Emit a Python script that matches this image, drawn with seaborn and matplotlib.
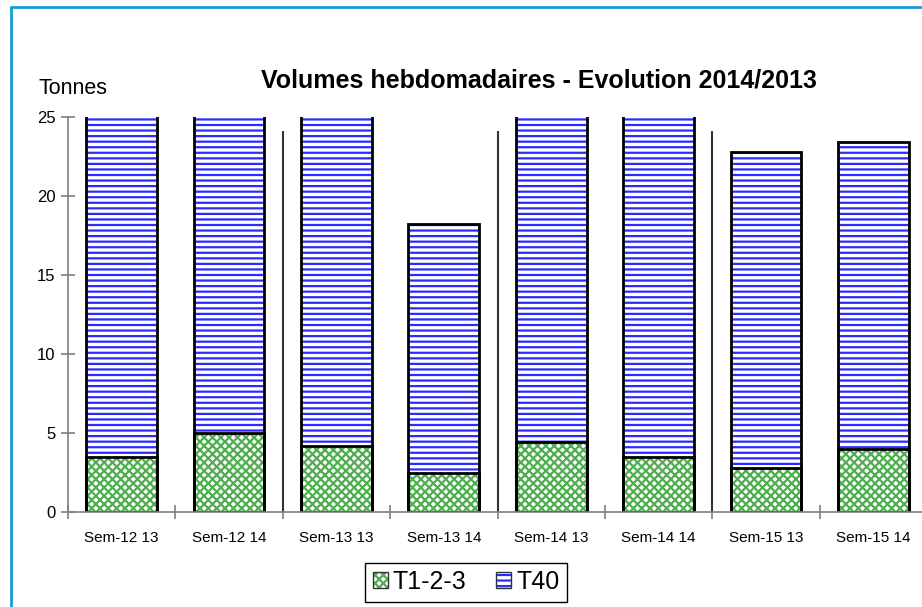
import numpy as np
import pandas as pd
import seaborn as sns
import matplotlib.pyplot as plt
from matplotlib.patches import Patch, Rectangle
from matplotlib.lines import Line2D
from matplotlib.legend_handler import HandlerTuple

labels = ['Sem-12 13', 'Sem-12 14', 'Sem-13 13', 'Sem-13 14',
          'Sem-14 13', 'Sem-14 14', 'Sem-15 13', 'Sem-15 14']
t123 = [3.5, 5.0, 4.2, 2.5, 4.4, 3.5, 2.8, 4.0]
t40 = [24.0, 25.0, 23.5, 15.7, 24.5, 25.5, 20.0, 19.4]
yticks = [0, 5, 10, 15, 20, 25]

df = pd.DataFrame({'sem': labels, 't123': t123, 't40': t40})
df['total'] = df['t123'] + df['t40']

sns.set_style('white')
plt.rcParams['font.family'] = ['Liberation Sans', 'DejaVu Sans']
plt.rcParams['hatch.linewidth'] = 1.6
plt.rcParams['text.color'] = 'black'
plt.rcParams['xtick.color'] = 'black'
plt.rcParams['ytick.color'] = 'black'

blue = '#2b2bff'
green = '#4fae4f'
grey = '#7f7f7f'

fig = plt.figure(figsize=(9.22, 6.07), dpi=100)
ax = fig.add_axes([68/922, 95/607, 859/922, 395/607])

# T40 drawn as the full stack, T1-2-3 overlaid at the bottom
sns.barplot(data=df, x='sem', y='total', color='white', edgecolor=blue,
            linewidth=0, hatch='---', width=0.66, saturation=1, ax=ax)
sns.barplot(data=df, x='sem', y='t123', color='white', edgecolor=green,
            linewidth=0, hatch='xxxx', width=0.66, saturation=1, ax=ax)

for p in list(ax.patches):
    ax.add_patch(Rectangle(p.get_xy(), p.get_width(), p.get_height(),
                           fill=False, edgecolor='black', linewidth=2))

# separators between weeks
ax.vlines([1.5, 3.5, 5.5], 0, 24.1, color='#333333', linewidth=1.5)

ax.set_xlim(-0.5, len(labels) - 0.5)
ax.set_ylim(0, 25)
ax.set_yticks(yticks)
ax.set_xticks(np.arange(-0.5, len(labels)), minor=True)
ax.set_xlabel('')
ax.set_ylabel('')

for s in ['top', 'right']:
    ax.spines[s].set_visible(False)
for s in ['left', 'bottom']:
    ax.spines[s].set_color(grey)
    ax.spines[s].set_linewidth(1.2)

ax.tick_params(axis='y', direction='inout', length=10, width=1.2, color=grey,
               labelcolor='black', labelsize=12, pad=4, left=True)
ax.tick_params(axis='x', which='major', length=0, labelsize=11,
               labelcolor='black', pad=14)
ax.tick_params(axis='x', which='minor', direction='inout', length=10,
               width=1.2, color=grey, bottom=True)

fig.text(539/922, 1 - 80/607, 'Volumes hebdomadaires - Evolution 2014/2013',
         ha='center', va='center', fontsize=18, fontweight='bold', color='black')
fig.text(38/922, 1 - 89/607, 'Tonnes', ha='left', va='center', fontsize=15.5,
         color='black')

h1 = (Patch(facecolor='white', edgecolor=green, hatch='xxxx', linewidth=0),
      Patch(fill=False, edgecolor='#333333', linewidth=1))
h2 = (Patch(facecolor='white', edgecolor=blue, hatch='---', linewidth=0),
      Patch(fill=False, edgecolor='#333333', linewidth=1))
leg = fig.legend([h1, h2], ['T1-2-3', 'T40'], loc='center',
                 handler_map={tuple: HandlerTuple(ndivide=1, pad=0)},
                 bbox_to_anchor=(466/922, 1 - 582/607), ncol=2, fontsize=18,
                 frameon=True, fancybox=False, framealpha=1, edgecolor='black',
                 handlelength=0.6, handleheight=0.6, handletextpad=0.2,
                 columnspacing=1.2, borderpad=0.3)
leg.get_frame().set_linewidth(1.0)

frame_col = '#1a9bd7'
fig.add_artist(Line2D([11/922, 1], [1 - 7/607, 1 - 7/607], color=frame_col, linewidth=2))
fig.add_artist(Line2D([11/922, 11/922], [0, 1 - 7/607], color=frame_col, linewidth=2))

fig.savefig('out.png', dpi=100)
